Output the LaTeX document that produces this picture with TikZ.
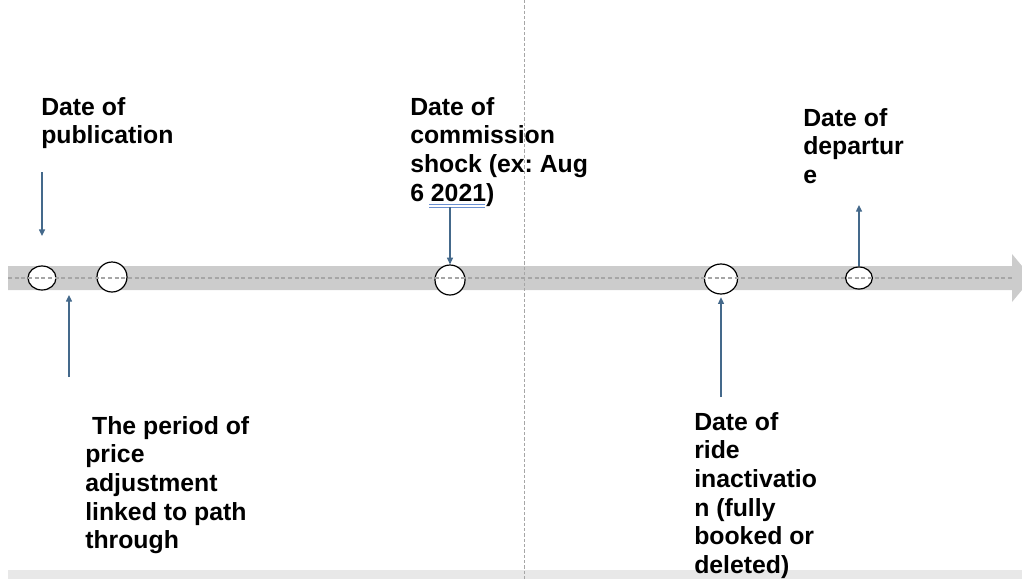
\documentclass[tikz,border=0pt]{standalone}
\usepackage{fontspec}
\setmainfont{Liberation Sans}
\usetikzlibrary{positioning, arrows.meta, shapes.geometric}
\definecolor{bandgray}{HTML}{CCCCCC}
\definecolor{midgray}{HTML}{A6A6A6}
\definecolor{pinblue}{HTML}{44698B}
\definecolor{spellblue}{HTML}{6A8FD0}
\definecolor{stripgray}{HTML}{E8E8E8}
\frenchspacing

\tikzset{
    event/.style={ellipse, draw=black, fill=white, line width=0.9pt, inner sep=0pt},
    datetext/.style={anchor=north west, inner sep=0pt, align=left,
        font=\fontsize{18.6}{21.5}\selectfont\bfseries},
    pointer/.style={pinblue, line width=1pt, -{Triangle[length=5pt, width=4.5pt]}}
}

\begin{document}
\begin{tikzpicture}[x=0.75pt, y=-0.75pt] % one unit = one pixel, y going down
    \useasboundingbox (0,0) rectangle (1022,579);
    \clip (0,0) rectangle (1022,579);

    % the time band with its head
    \fill[bandgray] (8,266) -- (1012,266) -- (1012,254) -- (1032,278)
        -- (1012,302) -- (1012,290) -- (8,290) -- cycle;
    \fill[stripgray] (8,570) rectangle (1022,579); % strip at the bottom

    % split line
    \draw[midgray, line width=0.5pt, dash pattern=on 2.5pt off 1.5pt] (524,0) -- (524,579);

    % events on the band
    \node[event, minimum width=21pt, minimum height=18pt] (pub) at (42,278) {};
    \node[event, minimum size=22.5pt] (adj) at (112,277) {};
    \node[event, minimum size=22.5pt] (shock) at (450,280) {};
    \node[event, minimum width=24.75pt, minimum height=22.5pt] (inact) at (721,279) {};
    \node[event, minimum width=20pt, minimum height=16.5pt] (dep) at (859,278) {};

    \draw[midgray, line width=0.8pt, dash pattern=on 3pt off 2pt] (8,278) -- (1012,278);

    % texts
    \node[datetext] (pubtext) at (41,97) {Date of\\publication};
    \node[datetext] (shocktext) at (410,97) {Date of\\commission\\shock (ex: Aug\\6 2021)};
    \node[datetext] (deptext) at (803,108) {Date of\\departur\\e};
    \node[datetext] (adjtext) at (85,416) {\ The period of\\price\\adjustment\\linked to path\\through};
    \node[datetext] (inacttext) at (694,412) {Date of\\ride\\inactivatio\\n (fully\\booked or\\deleted)};

    % spell check marks under 2021
    \draw[spellblue, line width=0.4pt] (429,204) -- (485,204) (429,207) -- (485,207);

    % arrows
    \coordinate (pubtail) at (42,172);
    \coordinate (pubhead) at (42,236);
    \coordinate (adjtail) at (69,377);
    \coordinate (adjhead) at (69,295);
    \coordinate (shocktail) at (450,207);
    \coordinate (inacttail) at (721,397);
    \coordinate (dephead) at (859,205);

    \draw[pointer] (pubtail) -- (pubhead);
    \draw[pointer] (adjtail) -- (adjhead);
    \draw[pointer] (shocktail) -- (shock.north);
    \draw[pointer, shorten >=2pt] (inacttail) -- (inact.south);
    \draw[pointer] (dep.north) -- (dephead);
\end{tikzpicture}
\end{document}
